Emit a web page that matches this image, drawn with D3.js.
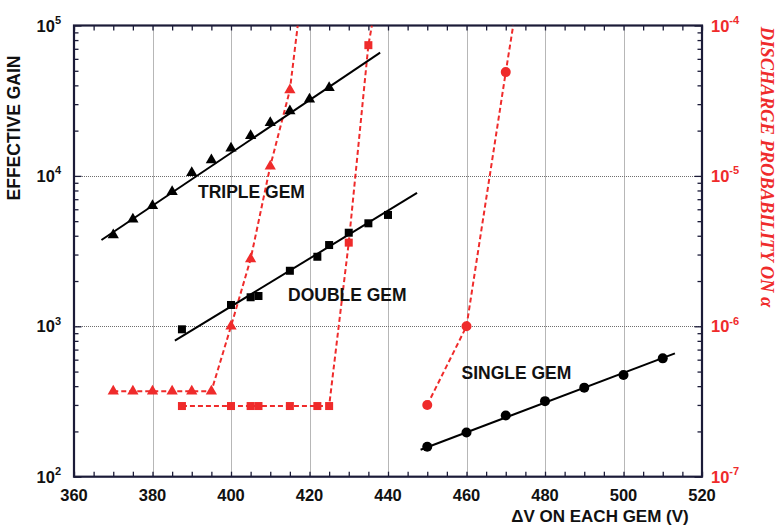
<!DOCTYPE html>
<html>
<head>
<meta charset="utf-8">
<script src="https://cdn.jsdelivr.net/npm/d3@7"></script>
<style>
  html, body { margin: 0; padding: 0; background: #ffffff; }
  svg { display: block; }
</style>
</head>
<body>
<svg id="chart" width="777" height="529"></svg>
<script>
// ---------------- DATA ----------------
const xTicksMajor = [360, 380, 400, 420, 440, 460, 480, 500, 520];
const leftExponents = [2, 3, 4, 5];
const rightExponents = [-7, -6, -5, -4];

// Effective gain (left axis)
const tripleV    = [370, 375, 380, 385, 390, 395, 400, 405, 410, 415, 420, 425];
const tripleGain = [4050, 5140, 6340, 7850, 10500, 12760, 15260, 18500, 22570, 27000, 32300, 38600];
const tripleFitV    = [367, 438];
const tripleFitGain = [3750, 66000];

const doubleV    = [387.5, 400, 405, 407, 415, 422, 425, 430, 435, 440];
const doubleGain = [955, 1386, 1560, 1590, 2340, 2900, 3470, 4190, 4840, 5500];
const doubleFitV    = [385.7, 447.4];
const doubleFitGain = [802, 7700];

const singleV    = [450, 460, 470, 480, 490, 500, 510];
const singleGain = [158, 197, 255, 318, 391, 474, 612];
const singleFitV    = [448.3, 513.1];
const singleFitGain = [151, 661];

// Discharge probability (right axis)
const tripleDischV = [370, 375, 380, 385, 390, 395, 400, 405, 410, 415];
const tripleDischP = [3.7e-7, 3.7e-7, 3.7e-7, 3.7e-7, 3.7e-7, 3.7e-7, 1.0e-6, 2.8e-6, 1.16e-5, 3.72e-5];
const tripleDischTail = [417, 1e-4];

const doubleDischV = [387.5, 400, 405, 407, 415, 422, 425, 430, 435];
const doubleDischP = [2.95e-7, 2.95e-7, 2.95e-7, 2.95e-7, 2.95e-7, 2.95e-7, 2.95e-7, 3.6e-6, 7.4e-5];
const doubleDischTail = [435.9, 1e-4];

const singleDischV = [450, 460, 470];
const singleDischP = [3.0e-7, 1.0e-6, 4.9e-5];
const singleDischTail = [471.9, 1e-4];

const labels = ["TRIPLE GEM", "DOUBLE GEM", "SINGLE GEM"];

// ---------------- LAYOUT ----------------
const L = 74, R = 702, T = 25.5, B = 476.7;
const RED = "#ef2b2b";
const AXIS = "#1b1b38";
const FONT = "'Liberation Sans', Arial, Helvetica, sans-serif";

const svg = d3.select("#chart");
const x  = d3.scaleLinear().domain([360, 520]).range([L, R]);
const yL = d3.scaleLog().domain([1e2, 1e5]).range([B, T]);
const yR = d3.scaleLog().domain([1e-7, 1e-4]).range([B, T]);

svg.append("defs").append("clipPath").attr("id", "plotclip")
  .append("rect").attr("x", L).attr("y", T).attr("width", R - L).attr("height", B - T);

// ---------------- GRID ----------------
const crisp = v => Math.round(v) + 0.5;
const grid = svg.append("g");
grid.selectAll("line.gx").data(xTicksMajor.slice(1, -1)).join("line")
  .attr("x1", d => crisp(x(d))).attr("x2", d => crisp(x(d))).attr("y1", T).attr("y2", B)
  .attr("stroke", "#6e6e6e").attr("stroke-width", 1).attr("stroke-dasharray", "1,1");
grid.selectAll("line.gy").data(leftExponents.slice(1, -1)).join("line")
  .attr("y1", d => crisp(yL(Math.pow(10, d)))).attr("y2", d => crisp(yL(Math.pow(10, d))))
  .attr("x1", L).attr("x2", R)
  .attr("stroke", "#6e6e6e").attr("stroke-width", 1).attr("stroke-dasharray", "1,1");

// ---------------- AXES (ticks) ----------------
const minorX = d3.range(360, 521, 5);
function logMinor(lo, hi) {
  const out = [];
  for (let e = lo; e < hi; e++) for (let m = 2; m <= 9; m++) out.push(m * Math.pow(10, e));
  return out;
}
const styleAxis = g => {
  g.select(".domain").remove();
  g.selectAll(".tick line").attr("stroke", AXIS).attr("stroke-width", 1.3);
  g.selectAll(".tick text").remove();
};
svg.append("g").attr("transform", `translate(0,${B})`)
  .call(d3.axisBottom(x).tickValues(minorX).tickSize(-5).tickFormat("")).call(styleAxis);
svg.append("g").attr("transform", `translate(0,${T})`)
  .call(d3.axisTop(x).tickValues(minorX).tickSize(-5).tickFormat("")).call(styleAxis);
svg.append("g").attr("transform", `translate(${L},0)`)
  .call(d3.axisLeft(yL).tickValues(logMinor(2, 5)).tickSize(-4.5).tickFormat("")).call(styleAxis);
svg.append("g").attr("transform", `translate(${L},0)`)
  .call(d3.axisLeft(yL).tickValues(leftExponents.map(e => Math.pow(10, e))).tickSize(-7.5).tickFormat("")).call(styleAxis);
svg.append("g").attr("transform", `translate(${R},0)`)
  .call(d3.axisRight(yR).tickValues(logMinor(-7, -4)).tickSize(-4.5).tickFormat("")).call(styleAxis);
svg.append("g").attr("transform", `translate(${R},0)`)
  .call(d3.axisRight(yR).tickValues(rightExponents.map(e => Math.pow(10, e))).tickSize(-7.5).tickFormat("")).call(styleAxis);

// frame
svg.append("rect").attr("x", L).attr("y", T).attr("width", R - L).attr("height", B - T)
  .attr("fill", "none").attr("stroke", AXIS).attr("stroke-width", 2.2);

// ---------------- TICK LABELS ----------------
svg.append("g").selectAll("text").data(xTicksMajor).join("text")
  .attr("x", d => x(d)).attr("y", 500.5).attr("text-anchor", "middle")
  .attr("font-family", FONT).attr("font-weight", "bold").attr("font-size", 16.5)
  .attr("fill", "#111").text(d => d);

const leftLab = svg.append("g").selectAll("text").data(leftExponents).join("text")
  .attr("x", 61).attr("y", d => yL(Math.pow(10, d)) + 6)
  .attr("text-anchor", "end").attr("font-family", FONT).attr("font-weight", "bold")
  .attr("font-size", 16.5).attr("fill", "#111");
leftLab.append("tspan").text("10");
leftLab.append("tspan").attr("dy", -7.5).attr("font-size", 11).text(d => d);

const rightLab = svg.append("g").selectAll("text").data(rightExponents).join("text")
  .attr("x", 711).attr("y", d => yR(Math.pow(10, d)) + 6)
  .attr("text-anchor", "start").attr("font-family", FONT).attr("font-weight", "bold")
  .attr("font-size", 16.5).attr("fill", RED);
rightLab.append("tspan").text("10");
rightLab.append("tspan").attr("dy", -7.5).attr("font-size", 11).text(d => d);

// ---------------- AXIS TITLES ----------------
svg.append("text").attr("transform", "translate(20,128) rotate(-90)")
  .attr("text-anchor", "middle").attr("font-family", FONT).attr("font-weight", "bold")
  .attr("font-size", 17.5).attr("fill", "#111").text("EFFECTIVE GAIN");

svg.append("text").attr("x", 600).attr("y", 521.5).attr("text-anchor", "middle")
  .attr("font-family", FONT).attr("font-weight", "bold").attr("font-size", 17)
  .attr("fill", "#111").text("ΔV ON EACH GEM (V)");

svg.append("text").attr("transform", "translate(761,167) rotate(90)")
  .attr("text-anchor", "middle").attr("font-family", "'Liberation Serif', 'Times New Roman', serif")
  .attr("font-weight", "bold").attr("font-style", "italic").attr("font-size", 18.5)
  .attr("fill", RED).text("DISCHARGE PROBABILITY ON α");

// ---------------- DISCHARGE (red dashed) ----------------
const plot = svg.append("g").attr("clip-path", "url(#plotclip)");
const lineR = d3.line().x(d => x(d[0])).y(d => yR(d[1]));
function dischSeries(vs, ps, tail) {
  const pts = vs.map((v, i) => [v, ps[i]]);
  plot.append("path").datum(pts.concat([tail])).attr("d", lineR)
    .attr("fill", "none").attr("stroke", RED).attr("stroke-width", 2)
    .attr("stroke-dasharray", "5,3");
  return pts;
}
const tD = dischSeries(tripleDischV, tripleDischP, tripleDischTail);
const dD = dischSeries(doubleDischV, doubleDischP, doubleDischTail);
const sD = dischSeries(singleDischV, singleDischP, singleDischTail);

// ---------------- GAIN FIT LINES ----------------
const lineL = d3.line().x(d => x(d[0])).y(d => yL(d[1]));
[[tripleFitV, tripleFitGain], [doubleFitV, doubleFitGain], [singleFitV, singleFitGain]].forEach(([vs, gs]) => {
  plot.append("path").datum(vs.map((v, i) => [v, gs[i]])).attr("d", lineL)
    .attr("fill", "none").attr("stroke", "#000").attr("stroke-width", 2);
});

// ---------------- MARKERS ----------------
const triSym = d3.symbol().type(d3.symbolTriangle).size(55);
const sqSize = 8;

// red markers
plot.append("g").selectAll("path").data(tD).join("path")
  .attr("transform", d => `translate(${x(d[0])},${yR(d[1])})`).attr("d", triSym).attr("fill", RED);
plot.append("g").selectAll("rect").data(dD).join("rect")
  .attr("x", d => x(d[0]) - sqSize / 2).attr("y", d => yR(d[1]) - sqSize / 2)
  .attr("width", sqSize).attr("height", sqSize).attr("fill", RED);
plot.append("g").selectAll("circle").data(sD).join("circle")
  .attr("cx", d => x(d[0])).attr("cy", d => yR(d[1])).attr("r", 5).attr("fill", RED);

// black markers
plot.append("g").selectAll("path").data(tripleV.map((v, i) => [v, tripleGain[i]])).join("path")
  .attr("transform", d => `translate(${x(d[0])},${yL(d[1])})`).attr("d", triSym).attr("fill", "#000");
plot.append("g").selectAll("rect").data(doubleV.map((v, i) => [v, doubleGain[i]])).join("rect")
  .attr("x", d => x(d[0]) - sqSize / 2).attr("y", d => yL(d[1]) - sqSize / 2)
  .attr("width", sqSize).attr("height", sqSize).attr("fill", "#000");
plot.append("g").selectAll("circle").data(singleV.map((v, i) => [v, singleGain[i]])).join("circle")
  .attr("cx", d => x(d[0])).attr("cy", d => yL(d[1])).attr("r", 5).attr("fill", "#000");

// ---------------- SERIES LABELS ----------------
const labPos = [[198, 197.5], [288, 300.7], [461.5, 379.3]];
svg.append("g").selectAll("text").data(labels).join("text")
  .attr("x", (d, i) => labPos[i][0]).attr("y", (d, i) => labPos[i][1])
  .attr("font-family", FONT).attr("font-weight", "bold").attr("font-size", 17.5)
  .attr("fill", "#111").text(d => d);
</script>
</body>
</html>
